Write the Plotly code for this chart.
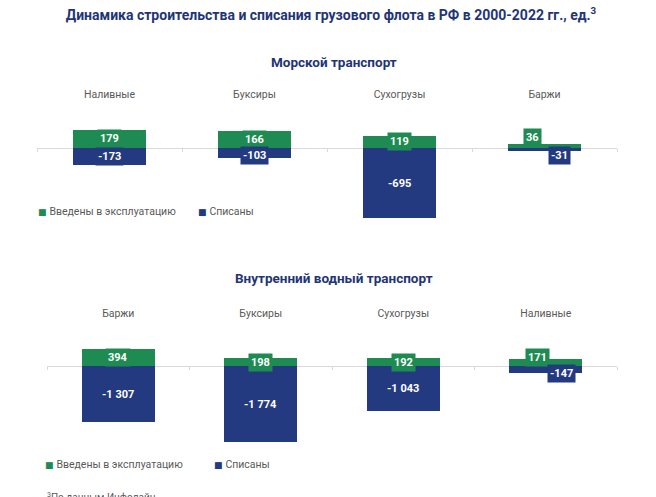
import plotly.graph_objects as go

# ---------------- data ----------------
sea_categories = ["Наливные", "Буксиры", "Сухогрузы", "Баржи"]
sea_built = [179, 166, 119, 36]
sea_scrapped = [-173, -103, -695, -31]

inland_categories = ["Баржи", "Буксиры", "Сухогрузы", "Наливные"]
inland_built = [394, 198, 192, 171]
inland_scrapped = [-1307, -1774, -1043, -147]

series_names = ["Введены в эксплуатацию", "Списаны"]
title_text = "Динамика строительства и списания грузового флота в РФ в 2000-2022 гг., ед.<sup>3</sup>"
panel_titles = ["Морской транспорт", "Внутренний водный транспорт"]
footnote = "<sup>3</sup>По данным Инфолайн"

# ---------------- style ----------------
GREEN = "#1e8c52"
BLUE = "#243a80"
NAVY_TEXT = "#1f3575"
GRAY_TEXT = "#595959"
LINE = "#d9d9d9"
FONT = "Roboto"
W, H = 656, 497

def px_x(p):
    return p / W

def px_y(p):
    return 1 - p / H

# label offsets (pixels) for small bars, to avoid overlap
sea_built_shift = [(0, 0), (0, 0), (0, 0), (-12, 8)]
sea_scr_shift = [(0, 0), (0, -3), (0, 0), (15, -6)]
in_built_shift = [(0, 0), (0, 0), (0, 0), (-8, 5)]
in_scr_shift = [(0, 0), (0, 0), (0, 0), (16, -4)]

panels = [
    dict(cats=sea_categories, built=sea_built, scr=sea_scrapped,
         xdom=[px_x(37), px_x(617)], ydom=[px_y(225), px_y(105)],
         yrange=[-760, 420], bshift=sea_built_shift, sshift=sea_scr_shift,
         xa="x", xb="x3", ya="y", legend_px=(36, 196, 211)),
    dict(cats=inland_categories, built=inland_built, scr=inland_scrapped,
         xdom=[px_x(47), px_x(617)], ydom=[px_y(450), px_y(324)],
         yrange=[-1960, 990], bshift=in_built_shift, sshift=in_scr_shift,
         xa="x2", xb="x4", ya="y2", legend_px=(43, 212, 464)),
]

def fmt(v):
    return f"{v:,}".replace(",", " ")

fig = go.Figure()
annotations = []

for i, p in enumerate(panels):
    fig.add_trace(go.Bar(
        x=p["cats"], y=p["built"], name=series_names[0],
        marker=dict(color=GREEN, line=dict(width=0)), width=0.51,
        xaxis=p["xa"], yaxis=p["ya"], showlegend=False, hoverinfo="skip"))
    fig.add_trace(go.Bar(
        x=p["cats"], y=p["scr"], name=series_names[1],
        marker=dict(color=BLUE, line=dict(width=0)), width=0.51,
        xaxis=p["xb"], yaxis=p["ya"], showlegend=False, hoverinfo="skip"))
    # value labels
    for vals, shifts, col in [(p["built"], p["bshift"], GREEN), (p["scr"], p["sshift"], BLUE)]:
        for c, v, (dx, dy) in zip(p["cats"], vals, shifts):
            annotations.append(dict(
                x=c, y=v / 2, xref=p["xa"], yref=p["ya"], text=f"<b>{fmt(v)}</b>",
                showarrow=False, font=dict(family=FONT, size=11, color="white"),
                bgcolor=col, borderpad=2, xshift=dx, yshift=dy))
    # legend (square + label)
    gx, bx, ly = p["legend_px"]
    for name, col, lx in zip(series_names, [GREEN, BLUE], [gx, bx]):
        annotations.append(dict(
            text=f"<span style='color:{col};font-family:DejaVu Sans;font-size:9px'>■ </span>{name}",
            x=px_x(lx), y=px_y(ly), xref="paper", yref="paper",
            xanchor="left", yanchor="middle", showarrow=False,
            font=dict(family=FONT, size=10.5, color=GRAY_TEXT)))

layout_axes = {}
for i, p in enumerate(panels):
    xa_name = "xaxis" if p["xa"] == "x" else "xaxis" + p["xa"][1:]
    xb_name = "xaxis" + p["xb"][1:]
    ya_name = "yaxis" if p["ya"] == "y" else "yaxis" + p["ya"][1:]
    r0, r1 = p["yrange"]
    zero_pos = p["ydom"][0] + (0 - r0) / (r1 - r0) * (p["ydom"][1] - p["ydom"][0])
    layout_axes[xa_name] = dict(
        domain=p["xdom"], anchor=p["ya"], side="top", type="category",
        categoryorder="array", categoryarray=p["cats"], range=[-0.5, 3.5],
        showline=False, showgrid=False, zeroline=False, ticks="",
        tickfont=dict(family=FONT, size=10.5, color=GRAY_TEXT), ticklabelstandoff=4)
    layout_axes[xb_name] = dict(
        overlaying=p["xa"], anchor="free", position=zero_pos, type="category",
        categoryorder="array", categoryarray=p["cats"], range=[-0.5, 3.5],
        showline=True, linecolor=LINE, linewidth=1, showgrid=False, zeroline=False,
        ticks="outside", tickson="boundaries", ticklen=3, tickcolor=LINE,
        showticklabels=False, layer="below traces")
    layout_axes[ya_name] = dict(
        domain=p["ydom"], anchor=p["xa"], range=p["yrange"], visible=False,
        showgrid=False, zeroline=False, fixedrange=True)

annotations.append(dict(text=f"<b>{panel_titles[0]}</b>", x=px_x(334), y=px_y(62),
                        xref="paper", yref="paper", showarrow=False,
                        xanchor="center", yanchor="middle",
                        font=dict(family=FONT, size=13.5, color=NAVY_TEXT)))
annotations.append(dict(text=f"<b>{panel_titles[1]}</b>", x=px_x(334), y=px_y(278),
                        xref="paper", yref="paper", showarrow=False,
                        xanchor="center", yanchor="middle",
                        font=dict(family=FONT, size=13.5, color=NAVY_TEXT)))
annotations.append(dict(text=footnote, x=px_x(45), y=px_y(489), xanchor="left", yanchor="top",
                        xref="paper", yref="paper", showarrow=False,
                        font=dict(family=FONT, size=10, color=GRAY_TEXT)))

fig.update_layout(
    width=W, height=H, margin=dict(l=0, r=0, t=0, b=0),
    paper_bgcolor="white", plot_bgcolor="white",
    barmode="overlay", bargap=0, showlegend=False,
    title=dict(text=f"<b>{title_text}</b>", x=px_x(331), xanchor="center",
               y=px_y(15), yanchor="middle",
               font=dict(family=FONT, size=14, color=NAVY_TEXT)),
    annotations=annotations,
    **layout_axes,
)

fig.write_html("out.html")
